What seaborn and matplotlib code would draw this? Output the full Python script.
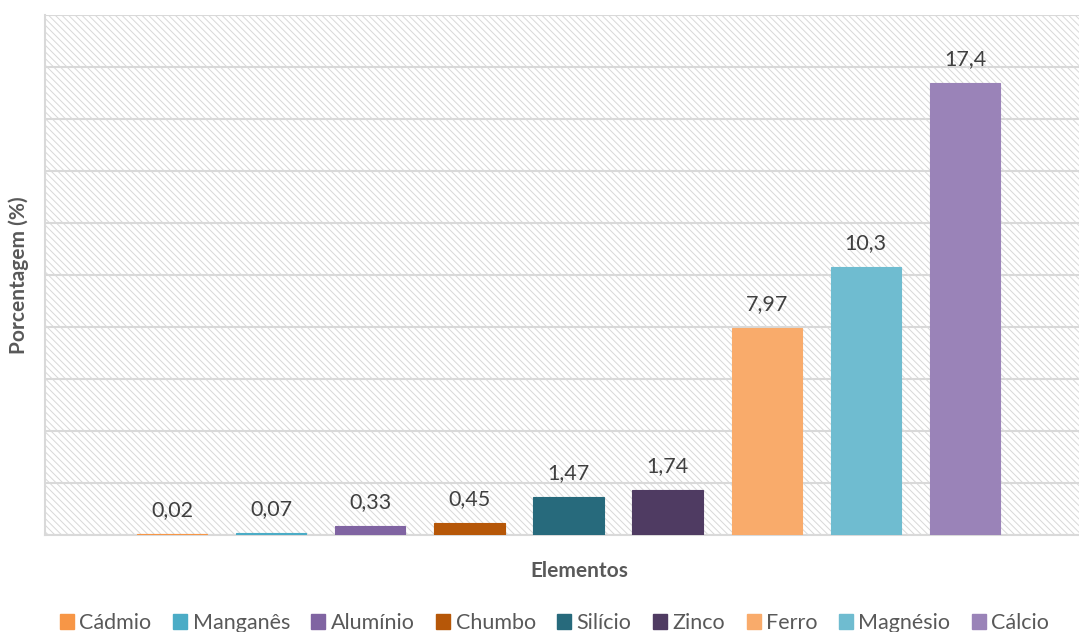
import matplotlib
matplotlib.use("Agg")
import matplotlib.pyplot as plt
import matplotlib.patches as mpatches
import seaborn as sns
import pandas as pd

elementos = ["Cádmio", "Manganês", "Alumínio", "Chumbo", "Silício",
             "Zinco", "Ferro", "Magnésio", "Cálcio"]
porcentagem = [0.02, 0.07, 0.33, 0.45, 1.47, 1.74, 7.97, 10.3, 17.4]
rotulos = ["0,02", "0,07", "0,33", "0,45", "1,47", "1,74", "7,97", "10,3", "17,4"]
cores = ["#F79646", "#4BACC6", "#8064A2", "#B65708", "#276A7C",
         "#4F3B62", "#F9AB6B", "#6FBCD0", "#9A83B8"]

df = pd.DataFrame({"Elemento": elementos, "Valor": porcentagem})

sns.set_style("white")
plt.rcParams["font.family"] = ["Lato", "DejaVu Sans"]
plt.rcParams["hatch.linewidth"] = 0.7
plt.rcParams["hatch.color"] = "#d8d8d8"

fig = plt.figure(figsize=(10.79, 6.32), dpi=100)
ax = fig.add_axes([45/1079, 1 - 535/632, 1 - 45/1079, (535 - 15)/632])

# fundo com hachura
fundo = mpatches.Rectangle((0, 0), 1, 1, transform=ax.transAxes,
                           facecolor="white", edgecolor="#d8d8d8",
                           hatch="\\" * 5, linewidth=0, zorder=0)
ax.add_patch(fundo)

sns.barplot(data=df, x="Elemento", y="Valor", hue="Elemento",
            palette=cores, width=0.71, legend=False, ax=ax, zorder=3,
            saturation=1)
for barra, c in zip(ax.patches[1:], cores):
    barra.set_edgecolor(c)
    barra.set_linewidth(0.8)

ax.set_ylim(0, 20)
ax.set_xlim(-1.28, 9.15)
ax.set_yticks(range(0, 21, 2))
ax.set_yticklabels([])
ax.set_xticks([])
ax.yaxis.grid(True, color="#d9d9d9", linewidth=1.5, zorder=1)
ax.set_axisbelow(True)
for lado in ["top", "right"]:
    ax.spines[lado].set_visible(False)
ax.spines["left"].set_color("#d9d9d9")
ax.spines["left"].set_linewidth(1.5)
ax.spines["bottom"].set_color("#d9d9d9")
ax.spines["bottom"].set_linewidth(1.5)
ax.tick_params(left=False, bottom=False)

for i, (v, r) in enumerate(zip(porcentagem, rotulos)):
    ax.annotate(r, (i, v), xytext=(0, 10), textcoords="offset points",
                ha="center", va="bottom", fontsize=15.5, color="#404040")

ax.set_xlabel("")
ax.set_ylabel("")
fig.text(579/1079, 1 - 571/632, "Elementos", ha="center", va="center",
         fontsize=15, fontweight="bold", color="#595959")
fig.text(19/1079, 1 - 275/632, "Porcentagem (%)", ha="center", va="center",
         rotation=90, fontsize=15, fontweight="bold", color="#595959")

handles = [mpatches.Patch(color=c, label=e) for c, e in zip(cores, elementos)]
fig.legend(handles=handles, loc="center", bbox_to_anchor=(0.514, 1 - 623/632),
           ncol=9, frameon=False, fontsize=15.5, handlelength=0.65,
           handleheight=0.65, handletextpad=0.25, columnspacing=1.0,
           labelcolor="#595959")

fig.savefig("out.png", dpi=100)
